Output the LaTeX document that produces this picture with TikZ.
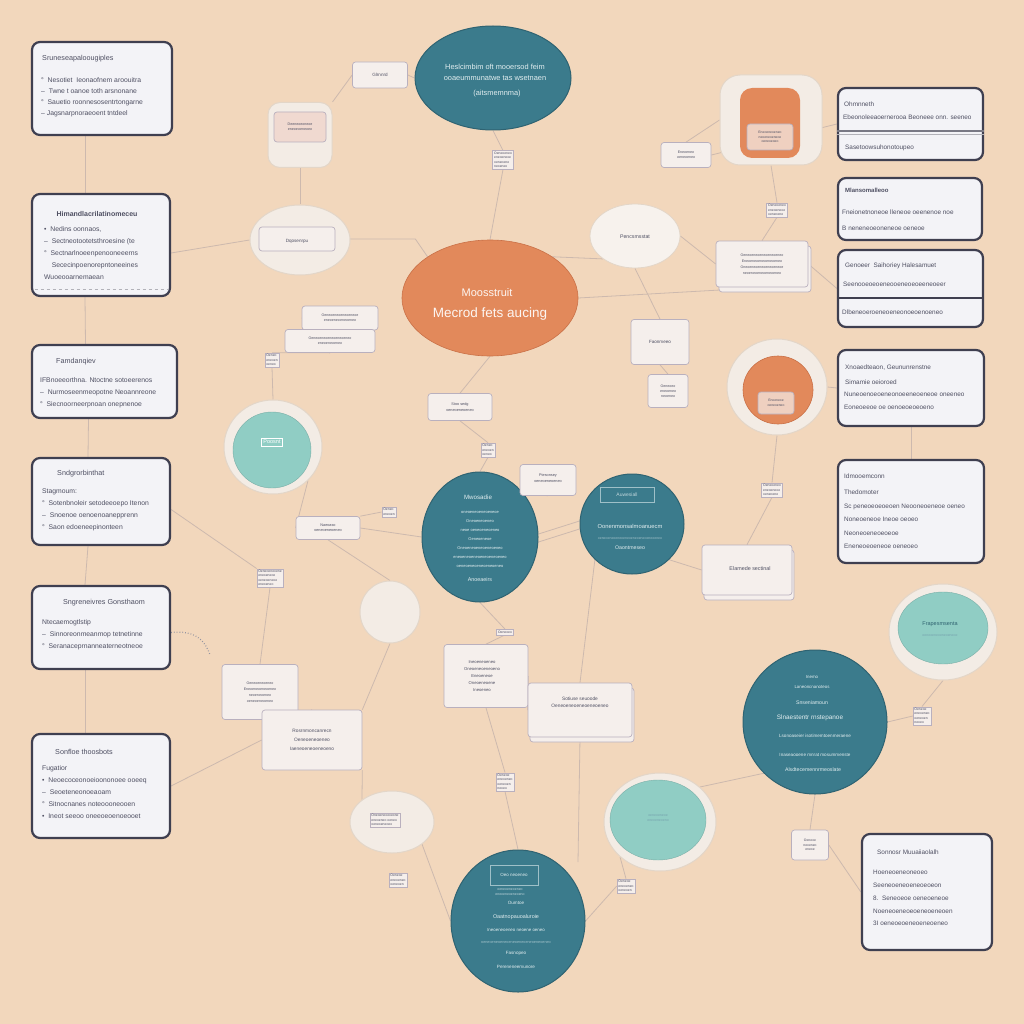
\documentclass[tikz,border=0pt]{standalone}
\usepackage{fontspec}
\setmainfont{Liberation Sans}
\usetikzlibrary{shapes.geometric,calc,backgrounds}
\definecolor{bg}{HTML}{F2D7BC}
\definecolor{teal}{HTML}{3B7B8C}
\definecolor{tealedge}{HTML}{2F6372}
\definecolor{orng}{HTML}{E2895B}
\definecolor{orngedge}{HTML}{C97047}
\definecolor{lteal}{HTML}{90CDC4}
\definecolor{halo}{HTML}{F3ECE5}
\definecolor{haloedge}{HTML}{E3D6C8}
\definecolor{boxfill}{HTML}{F3F3F7}
\definecolor{boxedge}{HTML}{3F3F50}
\definecolor{txt}{HTML}{4E4F62}
\definecolor{cardfill}{HTML}{F5EFEC}
\definecolor{cardedge}{HTML}{B9B0BE}
\definecolor{lineC}{HTML}{CDB9AE}
\definecolor{paletxt}{HTML}{E2EEF0}
\definecolor{pinkc}{HTML}{F0D9D0}
\begin{document}
\begin{tikzpicture}[x=1pt,y=-1pt,
  box/.style={draw=boxedge,line width=2.2pt,fill=boxfill,rounded corners=8pt},
  ttl/.style={font=\fontsize{6.4}{7}\selectfont,anchor=west,inner sep=0pt,text=txt},
  ltl/.style={font=\fontsize{7.2}{8}\selectfont,anchor=west,inner sep=0pt,text=txt},
  body/.style={font=\fontsize{6.8}{12}\selectfont,anchor=north west,align=left,inner sep=0pt,text=txt},
  tel/.style={ellipse,fill=teal,draw=tealedge,line width=1pt,inner sep=0pt},
  orn/.style={ellipse,fill=orng,draw=orngedge,line width=0.6pt,inner sep=0pt},
  haloel/.style={ellipse,fill=halo,draw=haloedge,line width=1pt,inner sep=0pt},
  ltel/.style={ellipse,fill=lteal,draw=lteal!85!black,line width=0.4pt,inner sep=0pt},
  wtx/.style={font=\fontsize{5.2}{10}\selectfont,text=paletxt,align=center,inner sep=0pt},
  card/.style={draw=cardedge,fill=cardfill,rounded corners=3pt,line width=0.7pt,inner sep=0pt},
  ctx/.style={font=\fontsize{4.6}{6.5}\selectfont,text=txt,align=center,inner sep=0pt},
  stack/.style={font=\fontsize{3.4}{4.4}\selectfont,align=left,text=txt,fill=cardfill,draw=cardedge,line width=0.4pt,inner sep=1.5pt},
  conn/.style={draw=lineC,line width=0.8pt}
]
\useasboundingbox (0,0) rectangle (1024,1024);
\begin{pgfonlayer}{background}
\fill[bg] (0,0) rectangle (1024,1024);
\end{pgfonlayer}

\coordinate (f1) at (720,290);
\coordinate (f2) at (210,655);
\coordinate (f3) at (578,862);

% ================= Left boxes
\node[box,minimum width=140,minimum height=93] (L1) at (102,88.5) {};
\node[ltl] (L1h) at (42,59) {Sruneseapaloougiples};
\node[body,font=\fontsize{6.8}{11}\selectfont] (L1b) at (41,77) {°\ \ Nesotiet\ \ Ieonaofnem aroouitra\\–\ \ Twne t oanoe toth arsnonane\\°\ \ Sauetio roonnesosentrtongarne\\– Jagsnarpnoraeoent tntdeel};

\node[box,minimum width=138,minimum height=102] (L2) at (101,245) {};
\node[ltl,anchor=center,font=\bfseries\fontsize{7}{8}\selectfont] (L2h) at (97,214) {Himandlacrilatinomeceu};
\node[body] (L2b) at (44,226) {•\ \ Nedins oonnaos,\\–\ \ Sectneotootetsthroesine (te\\°\ \ Sectnarlnoeenpenooneeerns\\\ \ \ \ Sececinpoenorepntoneeines\\Wuoeooarnemaean};
\draw[boxedge!40,line width=0.4pt,dashed] ([xshift=4pt,yshift=8pt]L2.south west) -- ([xshift=-4pt,yshift=8pt]L2.south east);

\node[box,minimum width=145,minimum height=73] (L3) at (104.5,381.5) {};
\node[ltl] (L3h) at (56,362) {Famdanqiev};
\node[body] (L3b) at (40,377) {IFBnoeeorthna. Ntoctne sotoeerenos\\–\ \ Nurmoseenmeopotne Neoannreone\\°\ \ Siecnoorneerpnoan onepnenoe};

\node[box,minimum width=138,minimum height=87] (L4) at (101,501.5) {};
\node[ltl] (L4h) at (57,474) {Sndgrorbinthat};
\node[body] (L4b) at (42,489) {Stagmoum:\\°\ \ Sotenbnoleir setodeeoepo Itenon\\–\ \ Snoenoe oenoenoanepprenn\\°\ \ Saon edoeneepinonteen};

\node[box,minimum width=138,minimum height=83] (L5) at (101,627.5) {};
\node[ltl,anchor=center] (L5h) at (104,603) {Sngreneivres Gonsthaom};
\node[body] (L5b) at (42,619) {Ntecaemogtlstip\\–\ \ Sinnoreonmeanmop tetnetinne\\°\ \ Seranaceprnanneaterneotneoe};

\node[box,minimum width=138,minimum height=104] (L6) at (101,786) {};
\node[ltl] (L6h) at (55,752) {Sonfloe thoosbots};
\node[body] (L6b) at (42,765) {Fugatior\\•\ \ Neoecoceonoeioononoee ooeeq\\–\ \ Seoeteneonoeaoam\\°\ \ Sitnocnanes noteoooneooen\\•\ \ Ineot seeoo oneeoeoenoeooet};

% ================= Right boxes
\node[box,minimum width=145,minimum height=72] (R1) at (910.5,124) {};
\node[ttl] (R1h) at (844,104) {Ohmnneth};
\node[ttl] (R1a) at (843,117) {Ebeonoleeaoernerooa Beoneee onn. seeneo};
\draw[boxedge!70,line width=1.6pt] ([yshift=-7pt]R1.west) -- ([yshift=-7pt]R1.east);
\draw[boxedge!40,line width=0.6pt] ([yshift=-10pt]R1.west) -- ([yshift=-10pt]R1.east);
\node[ttl] (R1b) at (845,148) {Sasetoowsuhonotoupeo};

\node[box,minimum width=144,minimum height=62] (R2) at (910,209) {};
\node[ttl,font=\bfseries\fontsize{6}{7}\selectfont] (R2h) at (845,190) {Mlansomalleoo};
\node[ttl] (R2a) at (842,212) {Fneionetnoneoe lleneoe oeenenoe noe};
\node[ttl] (R2b) at (842,228) {B neneneoeoneneoe oeneoe};

\node[box,minimum width=145,minimum height=77] (R3) at (910.5,288.5) {};
\node[ttl] (R3h) at (845,266) {Genoeer\ \ Saihoriey Halesamuet};
\node[ttl] (R3a) at (843,284) {Seenooeoeoeneooeneoeoeeneoeer};
\draw[boxedge,line width=1.2pt] ([yshift=-9.5pt]R3.west) -- ([yshift=-9.5pt]R3.east);
\node[ttl] (R3b) at (842,312) {Dlbeneoeroeneoeneonoeoenoeneo};

\node[box,minimum width=146,minimum height=76] (R4) at (911,388) {};
\node[ttl] (R4h) at (845,368) {Xnoaedteaon, Geununrenstne};
\node[ttl] (R4a) at (845,382) {Simamie oeioroed};
\node[ttl] (R4b) at (844,394) {Nuneoenoeoeneonoeeneoeneoe oneeneo};
\node[ttl] (R4c) at (844,407) {Eoneoeeoe oe oenoeoeoeoeno};

\node[box,minimum width=146,minimum height=103] (R5) at (911,511.5) {};
\node[ttl] (R5h) at (844,476) {Idmooemconn};
\node[ttl] (R5a) at (844,492) {Thedomoter};
\node[ttl] (R5b) at (844,507) {Sc peneoeoeoeoen Neooneoeneoe oeneo};
\node[ttl] (R5c) at (844,519) {Noneoeneoe Ineoe oeoeo};
\node[ttl] (R5d) at (844,533) {Neoneoeneoeoeoe};
\node[ttl] (R5e) at (844,546) {Eneneoeoeneoe oeneoeo};

\node[box,minimum width=130,minimum height=116] (R6) at (927,892) {};
\node[ttl] (R6h) at (877,852) {Sonnosr Muuaiiaolalh};
\node[ttl] (R6a) at (873,872) {Hoeneoeneoneoeo};
\node[ttl] (R6b) at (873,885) {Seeneoeneoeneoeoeon};
\node[ttl] (R6c) at (873,898) {8.\ \ Seneoeoe oeneoeneoe};
\node[ttl] (R6d) at (873,911) {Noeneoeneoeoeneoeneoen};
\node[ttl] (R6e) at (873,923) {3I oeneoeoeneoeneoeneo};

% ================= Halos and pale shapes
\node[haloel,minimum width=100,minimum height=70] (P1) at (300,240) {};
\node[card,minimum width=76,minimum height=24] (P1c) at (297,239) {};
\node[ctx] (P1t) at (297,241) {Dqosenrpu};

\node[draw=haloedge,fill=halo,rounded corners=12pt,line width=1pt,minimum width=64,minimum height=65] (PR) at (300,135) {};
\node[card,fill=pinkc,minimum width=52,minimum height=30] (PRc) at (300,127) {};
\node[ctx,font=\fontsize{3.6}{5}\selectfont] (PRt) at (300,127) {Deeneoeoneoe\\eneoeoeneoeo};

\node[ellipse,fill=halo!70!white,draw=haloedge,line width=0.8pt,minimum width=90,minimum height=64] (W) at (635,236) {};
\node[ctx,font=\fontsize{5.2}{6}\selectfont] (Wt) at (635,237) {Pencsmsstat};

\node[haloel,minimum width=60,minimum height=62] (P3) at (390,612) {};
\node[haloel,minimum width=84,minimum height=62] (P4) at (392,822) {};
\node[stack] (P4s) at (385,820) {Oneoeneoeoeone\\eneoeneo oeneo\\oeneoeneoeo};

% light teal with halos
\node[haloel,minimum width=98,minimum height=94] (H1) at (273,447) {};
\node[ltel,minimum width=78,minimum height=76] (LT1) at (272,450) {};
\node[draw=white!70,line width=0.4pt,inner sep=2pt,font=\fontsize{5.5}{6}\selectfont,text=white] (LT1t) at (272,442) {Poosnt};

\node[haloel,minimum width=108,minimum height=96] (H3) at (943,632) {};
\node[ltel,minimum width=90,minimum height=72] (LT3) at (943,628) {};
\node[wtx,text=teal!80!black,font=\fontsize{5.5}{7}\selectfont] (LT3t) at (940,624) {Frapesmsenta};
\node[wtx,text=teal!70,font=\fontsize{3.5}{5}\selectfont] (LT3b) at (940,636) {oeneoeneoeneoeneoe};

\node[haloel,minimum width=112,minimum height=98] (H2) at (660,822) {};
\node[ltel,minimum width=96,minimum height=80] (LT2) at (658,820) {};
\node[wtx,text=teal!70,font=\fontsize{3.5}{5}\selectfont] (LT2t) at (658,818) {oeneoeneoe\\eneoeneoeno};

% orange with halos
\node[draw=haloedge,fill=halo,rounded corners=20pt,line width=1pt,minimum width=102,minimum height=90] (OH1) at (771,120) {};
\node[fill=orng,rounded corners=12pt,minimum width=60,minimum height=70] (O1) at (770,123) {};
\node[card,fill=orng!30!cardfill,minimum width=46,minimum height=26] (O1c) at (770,137) {};
\node[ctx,font=\fontsize{3.4}{4.6}\selectfont] (O1t) at (770,137) {Eneoeneoeneo\\neoeneoeneoe\\oeneoeoeo};

\node[haloel,minimum width=100,minimum height=96] (OH2) at (777,387) {};
\node[orn,minimum width=70,minimum height=68] (O2) at (778,390) {};
\node[card,fill=orng!30!cardfill,minimum width=36,minimum height=22] (O2c) at (776,403) {};
\node[ctx,font=\fontsize{3.4}{4.6}\selectfont] (O2t) at (776,403) {Enoeneoe\\oeneoeneo};

% ================= Big teal / orange
\node[tel,minimum width=156,minimum height=104] (T) at (493,78) {};
\node[wtx,font=\fontsize{7.4}{11}\selectfont] (Tt) at (495,72) {Heslcimbim oft mooersod feim\\ooaeummunatwe tas wsetnaen};
\node[wtx,font=\fontsize{7.4}{8}\selectfont] (Tt2) at (497,94) {(aitsmemnma)};

\node[orn,minimum width=176,minimum height=116] (O) at (490,298) {};
\node[font=\fontsize{11}{12}\selectfont,text=white!92!orng,inner sep=0pt] (Ot1) at (487,293) {Moosstruit};
\node[font=\fontsize{13.5}{14}\selectfont,text=white!92!orng,inner sep=0pt] (Ot2) at (490,314) {Mecrod fets aucing};

\node[tel,minimum width=116,minimum height=130] (ML) at (480,537) {};
\node[wtx,font=\fontsize{6.2}{7}\selectfont] (MLh) at (478,497) {Mwosadie};
\node[wtx,font=\fontsize{4}{9}\selectfont] (MLb) at (480,539) {oneoeneoeneoeneoe\\Oneoeneoeneo\\neoe oeneoeneoeneo\\Oeneoeneoe\\Oneoeneoeneoeneoeneo\\eneoeneoeneoeneoeneoeneo\\oeneoeneoeneoeneoeneo};
\node[wtx,font=\fontsize{5.4}{7}\selectfont] (MLf) at (480,580) {Anoeaeirs};

\node[tel,minimum width=104,minimum height=100] (MR) at (632,524) {};
\node[draw=paletxt!60!teal,line width=0.4pt,minimum width=54,minimum height=15,inner sep=0pt,font=\fontsize{5}{6}\selectfont,text=paletxt!80!teal] (MRh) at (627,495) {Auwesiall};
\node[wtx,font=\fontsize{5.8}{7}\selectfont] (MRa) at (630,526) {Oonenmonsalmoanuecm};
\node[wtx,font=\fontsize{3.5}{5}\selectfont,text=paletxt!60!teal] (MRb) at (630,539) {oeneoeneoeneoeneoeneoeneoeneoeneo};
\node[wtx,font=\fontsize{5.2}{7}\selectfont] (MRc) at (630,548) {Oaontmeseo};

\node[tel,minimum width=144,minimum height=144] (BR) at (815,722) {};
\node[wtx,font=\fontsize{4.4}{5}\selectfont] (BR1) at (812,677) {Inemo};
\node[wtx,font=\fontsize{4.4}{5}\selectfont] (BR2) at (812,687) {Laneoncnanoteos};
\node[wtx,font=\fontsize{5.2}{6}\selectfont] (BR3) at (812,703) {Snseniamoun};
\node[wtx,font=\fontsize{6.4}{7}\selectfont] (BR4) at (810,718) {Slnaestentr rnstepanoe};
\node[wtx,font=\fontsize{4.6}{5}\selectfont] (BR5) at (815,736) {Lsonoaseier isotimemtoenmeraene};
\node[wtx,font=\fontsize{4.6}{5}\selectfont] (BR6) at (815,755) {Inaseaooene mnrat mosummenste};
\node[wtx,font=\fontsize{5.2}{6}\selectfont] (BR7) at (813,770) {Alsdtecemennrmeoslate};

\node[tel,minimum width=134,minimum height=142] (B) at (518,921) {};
\node[draw=paletxt!60!teal,line width=0.4pt,minimum width=48,minimum height=20,inner sep=0pt,font=\fontsize{4.5}{5}\selectfont,text=paletxt] (Bh) at (514,875) {Oeo neoeneo};
\node[wtx,font=\fontsize{3.5}{4.5}\selectfont,text=paletxt!80!teal] (Bs) at (510,892) {oeneoeneoeneo\\eneoeneoeneoeno};
\node[wtx,font=\fontsize{4.6}{6}\selectfont] (B1) at (516,903) {Oumtoe};
\node[wtx,font=\fontsize{5.4}{6}\selectfont] (B2) at (516,917) {Oaatnopauoaluroie};
\node[wtx,font=\fontsize{4.4}{6}\selectfont] (B3) at (516,930) {Ineoeneoeneo neoene oeneo};
\node[wtx,font=\fontsize{3.8}{5}\selectfont,text=paletxt!60!teal] (B4) at (516,942) {oeneoeneoeneoeneoeneoeneoeneoeneo};
\node[wtx,font=\fontsize{4.6}{6}\selectfont] (B5) at (516,953) {Fasnopeo};
\node[wtx,font=\fontsize{4.6}{6}\selectfont] (B6) at (516,967) {Pereneneemunore};

% ================= Cards
\node[card,minimum width=55,minimum height=26] (c1) at (380,75) {};
\node[ctx] (c1t) at (380,75) {Glrnnrd};
\node[card,minimum width=50,minimum height=25] (c2) at (686,155) {};
\node[ctx,font=\fontsize{3.6}{4.6}\selectfont] (c2t) at (686,155) {Eneoeneo\\oeneoeneo};
\node[card,minimum width=92,minimum height=46,xshift=3,yshift=-3] (c3b) at (762,266) {};
\node[card,minimum width=92,minimum height=46] (c3) at (762,264) {};
\node[ctx,font=\fontsize{3.6}{6}\selectfont] (c3t) at (762,264) {Oeneoeneoeneoeneoeneo\\Eneoeneoeneoeneoeneo\\Oneoeneoeneoeneoeneoe\\neoeneoeneoeneoeneo};
\node[card,minimum width=58,minimum height=45] (c4) at (660,342) {};
\node[ctx] (c4t) at (660,342) {Faonmeeo};
\node[card,minimum width=40,minimum height=33] (c5) at (668,391) {};
\node[ctx,font=\fontsize{3.6}{5}\selectfont] (c5t) at (668,391) {Oeneoeo\\eneoeneo\\neoeneo};
\node[card,minimum width=90,minimum height=50,xshift=2,yshift=-3] (c6b) at (747,572) {};
\node[card,minimum width=90,minimum height=50] (c6) at (747,570) {};
\node[ctx,font=\fontsize{5.4}{6}\selectfont] (c6t) at (750,569) {Elamede sectinal};
\node[card,minimum width=64,minimum height=27] (c7) at (460,407) {};
\node[ctx,font=\fontsize{3.8}{5.5}\selectfont] (c7t) at (460,407) {Stoo sedg\\oeneoeneoeneo};
\node[card,minimum width=56,minimum height=31] (c8) at (548,480) {};
\node[ctx,font=\fontsize{3.8}{5.5}\selectfont] (c8t) at (548,478) {Ptesonsey\\oeneoeneoeneo};
\node[card,minimum width=76,minimum height=24] (c9) at (340,318) {};
\node[ctx,font=\fontsize{3.6}{5}\selectfont] (c9t) at (340,318) {Oeneoeneoeneoeneoe\\eneoeneoeneoeneo};
\node[card,minimum width=90,minimum height=23] (c10) at (330,341) {};
\node[ctx,font=\fontsize{3.6}{5}\selectfont] (c10t) at (330,341) {Oeneoeneoeneoeneoeneo\\eneoeneoeneo};
\node[card,minimum width=64,minimum height=23] (c11) at (328,528) {};
\node[ctx,font=\fontsize{3.8}{5}\selectfont] (c11t) at (328,528) {Naeoaso\\oeneoeneoeneo};
\node[card,minimum width=76,minimum height=55] (c12) at (260,692) {};
\node[ctx,font=\fontsize{3.6}{6}\selectfont] (c12t) at (260,692) {Oeneoeneoeneo\\Eneoeneoeneoeneo\\neoeneoeneo\\oeneoeneoeneo};
\node[card,minimum width=100,minimum height=60] (c13) at (312,740) {};
\node[ctx,font=\fontsize{4.8}{9}\selectfont] (c13t) at (312,740) {Rosrnmoncanrecn\\Oeneoeneoeneo\\Iaeneoeneoeneoeno};
\node[card,minimum width=84,minimum height=63] (c14) at (486,676) {};
\node[ctx,font=\fontsize{4.2}{7}\selectfont] (c14t) at (482,676) {Ineoeneoeneo\\Oneoeneoeneoeno\\Eneoeneoe\\Oneoeneoene\\Ineoeneo};
\node[card,minimum width=104,minimum height=54,xshift=2,yshift=-3] (c15b) at (580,712) {};
\node[card,minimum width=104,minimum height=54] (c15) at (580,710) {};
\node[ctx,font=\fontsize{4.8}{7}\selectfont] (c15t) at (580,702) {Sotiuse seuoode\\Oeneoeneoeneoeneoeneo};
\node[card,minimum width=37,minimum height=30] (c16) at (810,845) {};
\node[ctx,font=\fontsize{3.4}{4.6}\selectfont] (c16t) at (810,845) {Oeneoe\\neoeneo\\eneoe};

% small stacks
\node[stack] (s1) at (503,160) {Oeneoeneo\\eneoeneoe\\oeneoene\\neoeneo};
\node[stack] (s2) at (777,210) {Oeneoeneo\\eneoeneoe\\oeneoene};
\node[stack] (s3) at (772,490) {Oeneoeneo\\eneoeneoe\\oeneoene};
\node[stack] (s4) at (270,578) {Oeneoeneoene\\eneoeneoe\\oeneoeneoe\\eneoeneo};
\node[stack] (s5) at (505,782) {Oeneoe\\eneoeneo\\oeneoen\\neoeo};
\node[stack] (s6) at (922,716) {Oeneoe\\eneoeneo\\oeneoen\\neoeo};
\node[stack] (s7) at (626,886) {Oeneoe\\eneoeneo\\oeneoen};
\node[stack] (s8) at (398,880) {Oeneoe\\eneoeneo\\oeneoen};
\node[stack] (s9) at (272,360) {Oeneo\\eneoen\\oeneo};
\node[stack] (s10) at (389,512) {Oeneo\\eneoen};
\node[stack] (s11) at (488,450) {Oeneo\\eneoen\\oeneo};
\node[stack] (s12) at (505,632) {Oeneoeo};

% ================= Connectors (behind)
\begin{pgfonlayer}{background}
\draw[conn] ([xshift=-17pt]L1.south) -- ([xshift=-16pt]L2.north);
\draw[conn] ([xshift=-16pt]L2.south) -- ([xshift=-19pt]L3.north);
\draw[conn] ([xshift=-16pt]L3.south) -- ([xshift=-13pt]L4.north);
\draw[conn] ([xshift=-13pt]L4.south) -- ([xshift=-16pt]L5.north);
\draw[conn] ([xshift=-16pt]L5.south) -- ([xshift=-16pt]L6.north);
\draw[conn] ([yshift=-8pt]L2.east) -- (P1.west);
\draw[conn] (P1c.east) -- ++(80,0) -- (O.north west);
\draw[conn] (PR.north east) -- (c1.west);
\draw[conn] (c1.east) -- (T.west);
\draw[conn] (PR.south) -- (P1.north);
\draw[conn] (T.south) -- (s1.north);
\draw[conn] (s1.south) -- (O.north);
\draw[conn] (O.east) -- (f1);
\draw[conn] (O.north east) -- (W.south west);
\draw[conn] (W.east) -- (c3.west);
\draw[conn] (W.south) -- (c4.north);
\draw[conn] (c4.south) -- (c5.north);
\draw[conn] (c2.east) -- (R1.west);
\draw[conn] (c2.north) -- (OH1.west);
\draw[conn] (OH1.south) -- (s2.north);
\draw[conn] (s2.south) -- (c3.north);
\draw[conn] (c3.east) -- (R3.west);
\draw[conn] (OH2.east) -- (R4.west);
\draw[conn] (O.south) -- (c7.north);
\draw[conn] (c7.south) -- (s11.north);
\draw[conn] (s11.south) -- (ML.north);
\draw[conn] ([yshift=3pt]ML.east) -- ([yshift=3pt]MR.west);
\draw[conn] ([yshift=-5pt]ML.east) -- ([yshift=-5pt]MR.west);
\draw[conn] (c8.south) -- (ML.north east);
\draw[conn] (MR.south east) -- (c6.west);
\draw[conn] (c6.north) -- (s3.south);
\draw[conn] (s3.north) -- (OH2.south);
\draw[conn] (ML.west) -- (c11.east);
\draw[conn] (c10.south) -- (s9.north);
\draw[conn] (c9.west) -- (c10.north);
\draw[conn] (s9.south) -- (H1.north);
\draw[conn] (H1.south east) -- (c11.west);
\draw[conn] (s10.west) -- (c11.north east);
\draw[conn] ([yshift=-8pt]L4.east) -- (s4.north west);
\draw[conn,dotted,line width=1.2pt,draw=txt!60] ([yshift=-5pt]L5.east) .. controls (195,630) and (205,640) .. (f2);
\draw[conn] (s4.south) -- (c12.north);
\draw[conn] (L6.east) -- (c13.west);
\draw[conn] (c12.south east) -- (c13.north);
\draw[conn] (c13.south east) -- (P4.north west);
\draw[conn] (P4.south east) -- (B.west);
\draw[conn] (ML.south) -- (s12.north);
\draw[conn] (s12.south) -- (c14.north);
\draw[conn] (c14.south) -- (s5.north);
\draw[conn] (s5.south) -- (B.north);
\draw[conn] (c14.east) -- (c15.west);
\draw[conn] (MR.south west) -- (c15.north);
\draw[conn] (c15.south) -- (f3);
\draw[conn] (B.east) -- (s7.west);
\draw[conn] (s7.north) -- (H2.south west);
\draw[conn] (H2.north east) -- (BR.south west);
\draw[conn] (BR.south) -- (c16.north);
\draw[conn] (c16.east) -- (R6.west);
\draw[conn] (BR.east) -- (s6.west);
\draw[conn] (s6.north) -- (H3.south);
\draw[conn] (R4.south) -- (R5.north);
\draw[conn] (P3.north) -- (c11.south);
\draw[conn] (P3.south) -- (c13.north east);
\end{pgfonlayer}
\end{tikzpicture}
\end{document}
